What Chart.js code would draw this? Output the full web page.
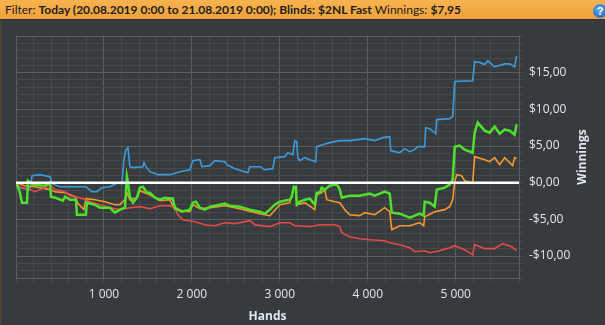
<!DOCTYPE html>
<html>
<head>
<meta charset="utf-8">
<script src="https://cdn.jsdelivr.net/npm/chart.js@4"></script>
<style>
    html, body { margin: 0; padding: 0; }
    body { width: 605px; height: 325px; overflow: hidden; background: #383b3e; position: relative; }
    #bar {
        position: absolute; left: 0; top: 0; width: 605px; height: 19px;
        background: linear-gradient(#f7b34f, #f0a23c);
        border-bottom: 1px solid #2a2c2e;
        font: 12px Lato, "Liberation Sans", sans-serif; color: #1d1d1d;
        line-height: 19px; white-space: nowrap;
    }
    #bar span { position: absolute; left: 5px; }
    #bar b { font-weight: bold; }
    #help {
        position: absolute; left: 593px; top: 4px; width: 14px; height: 14px; border-radius: 50%;
        background: radial-gradient(circle at 40% 35%, #5aa6e8, #1d5fae);
        color: #fff; font: bold 11px "Liberation Sans", sans-serif; text-align: center; line-height: 14px;
    }
    #edge { position: absolute; left: 0; top: 20px; width: 2px; height: 305px; background: #4a4532; }
    #wrap { position: absolute; left: 0; top: 20px; width: 605px; height: 305px; }
</style>
</head>
<body>
<div id="bar"><span>Filter: <b>Today (20.08.2019 0:00 to 21.08.2019 0:00); Blinds: $2NL Fast</b> Winnings: <b>$7,95</b></span><div id="help">?</div></div>
<div id="wrap"><canvas id="chart" width="605" height="305"></canvas></div>
<div id="edge"></div>
<script>
// [hands, winnings $]
const bluePoints = [
    [0, 0], [45, -0.68], [159, -0.95], [182, 0.95], [273, 1.09], [386, 0.82], [409, -0.14], [500, -0.55],
    [795, -0.55], [864, -1.23], [920, -1.23], [977, -0.68], [1068, -0.55], [1159, 0], [1205, -0.14],
    [1227, 3.14], [1250, 4.5], [1273, 4.77], [1295, 2.18], [1330, 2.05], [1443, 2.18], [1455, 2.73],
    [1477, 2.18], [1523, 1.5], [1614, 1.09], [1750, 1.09], [1864, 1.5], [1977, 1.77], [2011, 3.0],
    [2091, 3.14], [2114, 2.18], [2205, 2.32], [2261, 3.0], [2375, 2.86], [2398, 2.46], [2489, 1.91],
    [2602, 1.5], [2636, 1.36], [2659, 2.18], [2773, 2.18], [2830, 1.77], [2920, 1.91], [2943, 3.41],
    [3057, 3.55], [3091, 4.09], [3148, 3.82], [3170, 5.73], [3193, 5.59], [3205, 3.41], [3227, 3.0],
    [3284, 3.41], [3341, 3.14], [3409, 2.86], [3420, 4.91], [3489, 5.18], [3568, 5.46], [3682, 5.73],
    [3795, 5.73], [3886, 5.87], [3966, 6.0], [4080, 5.73], [4170, 6.14], [4250, 6.28], [4261, 4.37],
    [4307, 4.23], [4364, 4.09], [4420, 4.64], [4477, 4.23], [4534, 4.5], [4568, 4.91], [4648, 4.91],
    [4659, 7.5], [4705, 7.37], [4761, 6.82], [4773, 6.68], [4784, 8.6], [4932, 8.73], [4966, 9.0],
    [4989, 13.8], [5193, 13.9], [5216, 16.5], [5273, 16.4], [5330, 16.1], [5364, 16.6], [5386, 16.4],
    [5443, 15.8], [5500, 16.0], [5557, 16.2], [5614, 16.2], [5670, 15.8], [5693, 17.3]
];
const greenPoints = [
    [0, 0], [45, -1.36], [68, -2.73], [125, -2.73], [136, 0.27], [193, -0.27], [330, -0.41], [386, 0],
    [398, -1.91], [443, -2.05], [534, -2.46], [557, -1.91], [614, -2.32], [682, -2.32], [693, -4.37],
    [795, -4.37], [807, -2.73], [898, -3.0], [955, -3.41], [1068, -3.41], [1125, -4.09], [1182, -3.68],
    [1239, -3.41], [1261, 0.82], [1273, 0], [1295, -1.91], [1330, -2.73], [1375, -2.05], [1409, -0.68],
    [1443, -0.55], [1489, -1.36], [1523, -1.36], [1580, -2.05], [1636, -2.32], [1693, -2.05],
    [1784, -2.18], [1807, -3.41], [1886, -3.96], [1977, -3.68], [2011, -2.73], [2045, -2.59],
    [2068, -3.0], [2091, -3.41], [2148, -3.68], [2205, -3.27], [2318, -3.0], [2375, -2.86],
    [2432, -3.14], [2545, -3.27], [2659, -3.68], [2773, -3.96], [2830, -4.23], [2886, -3.68],
    [2943, -3.0], [3000, -2.59], [3114, -2.32], [3136, -1.91], [3159, -0.55], [3182, -0.55],
    [3193, -3.0], [3227, -2.59], [3284, -2.32], [3341, -2.18], [3398, -3.0], [3420, -1.36],
    [3455, -1.36], [3477, -0.68], [3511, -0.95], [3568, -0.41], [3625, -0.27], [3659, -0.41],
    [3682, -0.95], [3705, -2.05], [3795, -1.77], [3909, -1.77], [4023, -1.5], [4080, -1.77],
    [4193, -1.23], [4250, -1.5], [4273, -4.09], [4364, -4.23], [4477, -4.77], [4591, -4.23],
    [4636, -4.5], [4648, -2.59], [4705, -2.73], [4761, -3.27], [4784, -0.95], [4875, -0.68],
    [4932, -0.27], [4966, 0.41], [4989, 4.91], [5045, 5.05], [5102, 4.5], [5193, 4.09], [5216, 6.82],
    [5250, 8.19], [5330, 7.09], [5386, 6.82], [5443, 7.64], [5500, 6.68], [5557, 7.23], [5614, 7.09],
    [5670, 6.55], [5693, 7.95]
];
const orangePoints = [
    [0, 0], [102, -0.41], [216, -0.55], [386, -0.95], [443, -1.23], [557, -1.36], [670, -1.91],
    [705, -2.86], [773, -3.68], [795, -2.18], [898, -2.32], [1011, -2.59], [1125, -3.0], [1182, -3.0],
    [1239, -2.32], [1261, -1.36], [1295, -2.32], [1375, -2.05], [1409, -1.09], [1523, -1.64],
    [1636, -2.46], [1750, -2.32], [1807, -3.68], [1977, -3.96], [2011, -3.0], [2091, -3.55],
    [2205, -3.41], [2375, -3.14], [2545, -3.55], [2773, -4.23], [2886, -4.5], [3000, -3.0],
    [3114, -2.73], [3159, -0.68], [3182, -0.82], [3193, -3.0], [3284, -2.73], [3398, -3.68],
    [3420, -1.64], [3477, -1.36], [3511, -0.95], [3534, -2.32], [3625, -2.59], [3682, -2.73],
    [3739, -3.68], [3795, -4.37], [3909, -4.5], [3966, -4.09], [4080, -4.37], [4193, -3.41],
    [4250, -3.96], [4273, -6.41], [4364, -5.87], [4477, -5.87], [4591, -5.46], [4636, -5.87],
    [4648, -4.64], [4761, -3.96], [4875, -3.68], [4932, -3.27], [4966, -2.32], [4989, 0.14],
    [5011, 1.09], [5068, 0.95], [5102, 0.27], [5193, 0], [5216, 3.55], [5330, 3.14], [5386, 2.86],
    [5443, 3.41], [5500, 2.46], [5557, 3.41], [5648, 2.32], [5670, 3.41], [5693, 3.27]
];
const redPoints = [
    [0, 0], [45, -0.55], [159, -0.95], [216, -1.23], [330, -0.68], [386, -0.27], [443, -0.95],
    [557, -1.23], [614, -1.77], [727, -2.05], [841, -2.59], [955, -3.0], [1068, -3.41], [1182, -3.68],
    [1295, -3.41], [1409, -3.27], [1523, -3.55], [1636, -3.14], [1750, -3.14], [1807, -3.41],
    [1841, -4.37], [1898, -5.05], [2034, -5.32], [2148, -5.73], [2261, -5.87], [2375, -5.46],
    [2489, -5.59], [2659, -5.18], [2716, -5.73], [2886, -6.0], [3000, -5.46], [3114, -5.46],
    [3170, -5.87], [3341, -6.0], [3455, -5.73], [3625, -5.73], [3682, -6.0], [3705, -6.82],
    [3795, -7.37], [3909, -7.64], [4023, -7.78], [4193, -7.91], [4250, -8.19], [4364, -8.46],
    [4477, -8.87], [4534, -9.41], [4648, -9.28], [4705, -9.55], [4818, -9.28], [4932, -8.87],
    [4989, -8.6], [5102, -9.14], [5193, -9.82], [5216, -8.46], [5330, -9.0], [5443, -9.0],
    [5534, -8.32], [5636, -8.73], [5693, -9.28]
];

const xMax = 5720;
const yMin = -13;
const yMax = 20;

const majorGrid = "#5b5e61";
const minorGrid = "#47494c";
const labelColor = "#dfe7f0";

const toXY = pts => pts.map(([x, y]) => ({ x, y }));

const makeSeries = (points, color, width, order) => ({
    data: toXY(points),
    borderColor: color,
    borderWidth: width,
    pointRadius: 0,
    tension: 0,
    order
});

const extras = {
    id: "extras",
    afterDatasetsDraw(chart) {
        const { ctx, chartArea, scales } = chart;
        const y0 = scales.y.getPixelForValue(0);
        ctx.save();
        ctx.strokeStyle = "#ffffff";
        ctx.lineWidth = 2.5;
        ctx.beginPath();
        ctx.moveTo(chartArea.left, y0);
        ctx.lineTo(chartArea.right, y0);
        ctx.stroke();
        ctx.restore();
    },
    afterDraw(chart) {
        const { ctx, chartArea } = chart;
        ctx.save();
        ctx.translate(chart.width - 22, (chartArea.top + chartArea.bottom) / 2);
        ctx.rotate(-Math.PI / 2);
        ctx.fillStyle = labelColor;
        ctx.font = "bold 12px 'Open Sans', sans-serif";
        ctx.textAlign = "center";
        ctx.textBaseline = "middle";
        ctx.fillText("Winnings", 0, 0);
        ctx.restore();
    }
};

const formatHands = v => String(v).replace(/\B(?=(\d{3})+(?!\d))/g, " ");
const formatMoney = v => (v < 0 ? "-" : "") + "$" + Math.abs(v).toFixed(2).replace(".", ",");

new Chart(document.getElementById("chart"), {
    type: "line",
    data: {
        datasets: [
            makeSeries(greenPoints, "#4ee12c", 2.5, 1),
            makeSeries(redPoints, "#e44a4a", 1.6, 2),
            makeSeries(orangePoints, "#f5972f", 1.6, 3),
            makeSeries(bluePoints, "#3a9bdc", 1.6, 4)
        ]
    },
    options: {
        responsive: false,
        animation: false,
        layout: { padding: { left: 16, top: 16, right: 0, bottom: 0 } },
        plugins: { legend: { display: false }, tooltip: { enabled: false } },
        scales: {
            x: {
                type: "linear",
                min: 0,
                max: xMax,
                afterFit: s => { s.height = 47; },
                ticks: {
                    stepSize: 200,
                    autoSkip: false,
                    maxRotation: 0,
                    padding: 4,
                    color: labelColor,
                    font: { family: "'Open Sans', sans-serif", size: 12 },
                    callback: v => (v > 0 && v % 1000 === 0 ? formatHands(v) : "")
                },
                grid: {
                    tickLength: 5,
                    tickColor: minorGrid,
                    color: c => (c.tick.value % 1000 === 0 || c.tick.value === xMax ? majorGrid : minorGrid)
                },
                border: { color: majorGrid },
                title: {
                    display: true,
                    text: "Hands",
                    color: labelColor,
                    font: { family: "'Open Sans', sans-serif", size: 12, weight: "bold" },
                    padding: { top: 0, bottom: 1 }
                }
            },
            y: {
                position: "right",
                min: yMin,
                max: yMax,
                afterFit: s => { s.width = 86; },
                ticks: {
                    stepSize: 1,
                    autoSkip: false,
                    padding: 5,
                    color: labelColor,
                    font: { family: "'Open Sans', sans-serif", size: 12 },
                    callback: v => (v % 5 === 0 && v < yMax ? formatMoney(v) : "")
                },
                grid: {
                    tickLength: 5,
                    tickColor: minorGrid,
                    color: c => (c.tick.value % 5 === 0 ? majorGrid : minorGrid)
                },
                border: { color: majorGrid }
            }
        }
    },
    plugins: [extras]
});
</script>
</body>
</html>
